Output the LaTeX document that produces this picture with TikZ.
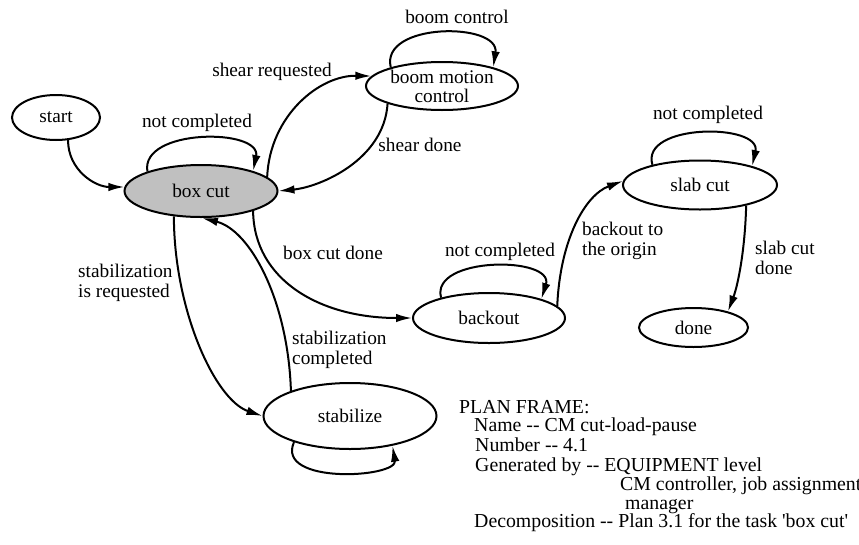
\documentclass[tikz,border=0pt]{standalone}
\usepackage{fontspec}
\setmainfont{Liberation Serif}
\usetikzlibrary{arrows.meta,shapes.geometric}
\definecolor{boxgray}{RGB}{192,192,192}
% two plain hyphens, kept apart so they are not joined into a dash
\newcommand{\hyhy}{-\kern0pt-}
\tikzset{
  state/.style={draw, ellipse, line width=2pt, inner sep=0pt, align=center,
    font=\fontsize{19.3}{19}\selectfont},
  lbl/.style={inner sep=0pt, align=left, font=\fontsize{19.3}{20}\selectfont},
  trans/.style={line width=2pt, -{Latex[length=16pt,width=8.5pt]}},
  plan/.style={inner sep=0pt, anchor=base west, font=\fontsize{19.8}{20}\selectfont},
}
\begin{document}
\begin{tikzpicture}[x=1pt,y=-1pt]
\useasboundingbox (0,0) rectangle (859,544);

% states
\node[state, minimum width=88pt, minimum height=45pt] (start) at (56,117.5) {start};
\node[state, fill=boxgray, minimum width=153pt, minimum height=52pt] (boxcut) at (201,191) {box cut};
\node[state, minimum width=152pt, minimum height=48pt, inner ysep=-6pt] (boom) at (442,86) {boom motion\\control};
\node[state, minimum width=154pt, minimum height=49pt] (slabcut) at (700,185) {slab cut};
\node[state, minimum width=152pt, minimum height=50pt] (backout) at (489,318) {backout};
\node[state, minimum width=109pt, minimum height=39pt] (done) at (693.5,327.5) {done};
\node[state, minimum width=173pt, minimum height=66pt] (stabilize) at (350,416) {stabilize};

% transitions
\draw[trans] (start.-62) .. controls (68,170) and (95,187) .. (boxcut.177);
\draw[trans] (boxcut.160) .. controls (140,128) and (262,128) .. (boxcut.21);
\draw[trans] (boxcut.12) .. controls (270,115) and (320,75) .. (boom.172);
\draw[trans] (boom.198) .. controls (384,160) and (320,187) .. (boxcut.east);
\draw[trans] (boom.160) .. controls (380,22) and (500,22) .. (boom.20);
\draw[trans] (boxcut.-21) .. controls (254,280) and (320,318) .. (backout.west);
\draw[trans] (backout.157) .. controls (430,256) and (555,256) .. (backout.20);
\draw[trans] (backout.10) .. controls (560,240) and (585,195) .. (slabcut.177);
\draw[trans] (slabcut.157) .. controls (640,123) and (762,123) .. (slabcut.20);
\draw[trans] (slabcut.-24) .. controls (745,250) and (738,285) .. (done.25);
\draw[trans] (boxcut.-137) .. controls (174,310) and (215,400) .. (stabilize.west);
\draw[trans] (stabilize.157) .. controls (288,300) and (250,230) .. (boxcut.-88);
\draw[trans] (stabilize.-155) .. controls (275,485) and (398,478) .. (stabilize.-35);

% transition labels
\node[lbl] (l1) at (197,123) {not completed};
\node[lbl] (l2) at (272,72) {shear requested};
\node[lbl] (l3) at (420,145) {shear done};
\node[lbl] (l4) at (457,17) {boom control};
\node[lbl] (l5) at (333,253) {box cut done};
\node[lbl] (l6) at (500,252) {not completed};
\node[lbl, anchor=west] (l7) at (582,241) {backout to\\the origin};
\node[lbl] (l8) at (708,115) {not completed};
\node[lbl, anchor=west] (l9) at (755,258) {slab cut\\done};
\node[lbl, anchor=west] (l10) at (78,283) {stabilization\\is requested};
\node[lbl, anchor=west] (l11) at (292,350) {stabilization\\completed};

% plan frame
\node[plan] (pf0) at (459,413) {PLAN FRAME:};
\node[plan] (pf1) at (474,431) {Name \hyhy{} CM cut-load-pause};
\node[plan] (pf2) at (475,451) {Number \hyhy{} 4.1};
\node[plan] (pf3) at (475,471) {Generated by \hyhy{} EQUIPMENT level};
\node[plan] (pf4) at (620,490) {CM controller, job assignment};
\node[plan] (pf5) at (625,509.5) {manager};
\node[plan] (pf6) at (474,527.5) {Decomposition \hyhy{} Plan 3.1 for the task \textquotesingle box cut\textquotesingle};
\end{tikzpicture}
\end{document}
